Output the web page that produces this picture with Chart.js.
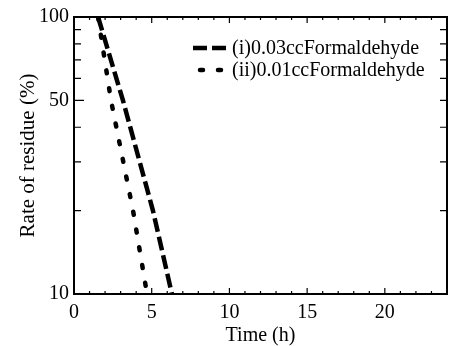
<!DOCTYPE html>
<html>
<head>
<meta charset="utf-8">
<script src="https://cdn.jsdelivr.net/npm/chart.js@4"></script>
<style>
  html, body { margin: 0; padding: 0; background: #fff; }
  #wrap { width: 449px; height: 346px; position: relative; }
</style>
</head>
<body>
<div id="wrap"><canvas id="chart-residue"></canvas></div>
<script>
// values
const seriesLabels = ['(i)0.03ccFormaldehyde', '(ii)0.01ccFormaldehyde'];
const timeI = [1.55, 3.15, 5.08, 6.3];
const residueI = [100, 50, 20, 10];
const timeII = [1.55, 2.38, 3.8, 4.7];
const residueII = [100, 50, 20, 10];

// axis ticks
const xTickLabels = [0, 5, 10, 15, 20];
const yTickLabels = [10, 50, 100];
const yMinorTicks = [20, 30, 40, 60, 70, 80, 90];

const serif = 'Liberation Serif';

function toPoints(xs, ys) {
    return xs.map(function (x, i) {
        return { x: x, y: ys[i] };
    });
}

// inward ticks on all four sides + frame
const frameTicks = {
    id: 'frameTicks',
    beforeDatasetsDraw(chart) {
        const ctx = chart.ctx;
        const a = chart.chartArea;
        const xs = chart.scales.x;
        const ys = chart.scales.y;
        ctx.save();
        ctx.strokeStyle = '#000';
        ctx.lineWidth = 1.2;
        ctx.beginPath();

        for (let v = 0; v <= 24; v++) {
            const px = xs.getPixelForValue(v);
            const len = (v % 5 === 0) ? 6 : 3;
            ctx.moveTo(px, a.bottom); ctx.lineTo(px, a.bottom - len);
            ctx.moveTo(px, a.top); ctx.lineTo(px, a.top + len);
        }

        yTickLabels.concat(yMinorTicks).forEach(function (v) {
            const py = ys.getPixelForValue(v);
            const major = yTickLabels.indexOf(v) >= 0;
            ctx.moveTo(a.left, py); ctx.lineTo(a.left + (major ? 10 : 7), py);
            ctx.moveTo(a.right, py); ctx.lineTo(a.right - 7, py);
        });
        ctx.stroke();

        ctx.lineWidth = 2;
        ctx.strokeRect(a.left, a.top, a.right - a.left, a.bottom - a.top);
        ctx.restore();
    }
};

// legend drawn inside the plot, top right
const innerLegend = {
    id: 'innerLegend',
    afterDatasetsDraw(chart) {
        const ctx = chart.ctx;
        const rows = [
            { y: 48, x0: 193, x1: 230 },
            { y: 70, x0: 200, x1: 230 }
        ];
        ctx.save();
        chart.data.datasets.forEach(function (ds, i) {
            const r = rows[i];
            ctx.strokeStyle = ds.borderColor;
            ctx.lineWidth = ds.borderWidth;
            ctx.lineCap = ds.borderCapStyle;
            ctx.setLineDash(ds.borderDash);
            ctx.beginPath();
            ctx.moveTo(r.x0, r.y);
            ctx.lineTo(r.x1, r.y);
            ctx.stroke();
            ctx.setLineDash([]);
            ctx.fillStyle = '#000';
            ctx.font = '20px "' + serif + '"';
            ctx.textBaseline = 'middle';
            ctx.textAlign = 'left';
            ctx.fillText(ds.label, 232, r.y + 1);
        });
        ctx.restore();
    }
};

const config = {
    type: 'line',
    data: {
        datasets: [
            {
                label: seriesLabels[0],
                data: toPoints(timeI, residueI),
                borderColor: '#000',
                borderWidth: 4.5,
                borderDash: [14, 5],
                borderCapStyle: 'butt',
                pointRadius: 0,
                fill: false
            },
            {
                label: seriesLabels[1],
                data: toPoints(timeII, residueII),
                borderColor: '#000',
                borderWidth: 4.5,
                borderDash: [3, 15],
                borderCapStyle: 'round',
                pointRadius: 0,
                fill: false
            }
        ]
    },
    options: {
        responsive: true,
        maintainAspectRatio: false,
        animation: false,
        layout: { padding: { top: 14, right: 2, left: 0, bottom: 0 } },
        plugins: {
            legend: { display: false },
            tooltip: { enabled: false }
        },
        scales: {
            x: {
                type: 'linear',
                min: 0,
                max: 24,
                grid: { display: false, drawTicks: false },
                border: { display: false },
                afterFit: function (scale) { scale.height = 52; },
                afterBuildTicks: function (scale) {
                    scale.ticks = xTickLabels.map(function (v) { return { value: v }; });
                },
                ticks: {
                    color: '#000',
                    padding: 7,
                    maxRotation: 0,
                    font: { family: serif, size: 20 },
                    callback: function (v) { return String(v); }
                },
                title: {
                    display: true,
                    text: 'Time (h)',
                    color: '#000',
                    font: { family: serif, size: 20, lineHeight: 1 },
                    padding: { top: 0, bottom: 0 }
                }
            },
            y: {
                type: 'logarithmic',
                min: 10,
                max: 100,
                grid: { display: false, drawTicks: false },
                border: { display: false },
                afterFit: function (scale) { scale.width = 74; },
                afterBuildTicks: function (scale) {
                    scale.ticks = yTickLabels.map(function (v) { return { value: v }; });
                },
                ticks: {
                    color: '#000',
                    padding: 5,
                    font: { family: serif, size: 20 },
                    callback: function (v) { return String(v); }
                },
                title: {
                    display: true,
                    text: 'Rate of residue (%)',
                    color: '#000',
                    font: { family: serif, size: 21 },
                    padding: { top: 16, bottom: 0 }
                }
            }
        }
    },
    plugins: [frameTicks, innerLegend]
};

const chart = new Chart(document.getElementById('chart-residue'), config);
</script>
</body>
</html>
